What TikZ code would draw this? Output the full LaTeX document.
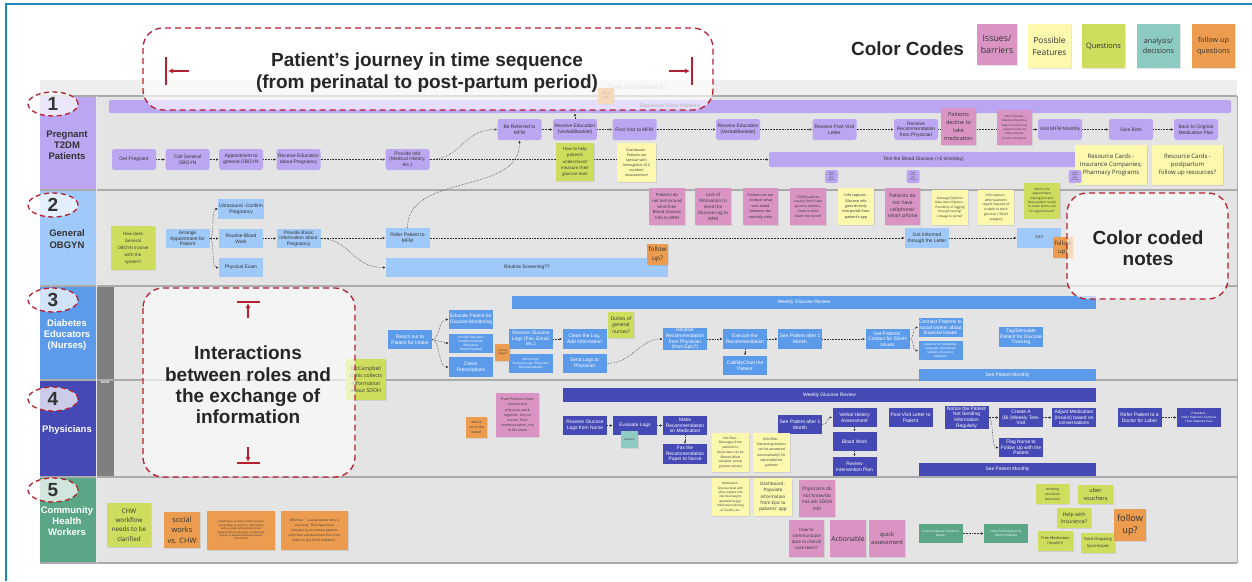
\documentclass[tikz,border=0pt]{standalone}
\usepackage{fontspec}
\setmainfont{Liberation Sans}
\newfontfamily\notefam{Open Sans}
\usepackage{tikz}
\usetikzlibrary{arrows.meta,shapes.geometric,shadows}

\definecolor{ptfill}{HTML}{BBA6F2}
\definecolor{obfill}{HTML}{9FC9F8}
\definecolor{edfill}{HTML}{5C9BEA}
\definecolor{phfill}{HTML}{4549B5}
\definecolor{cwfill}{HTML}{5AA686}
\definecolor{mfmgray}{HTML}{7F7F7F}
\definecolor{boardbg}{HTML}{E4E4E4}
\definecolor{bandbg}{HTML}{EEEEEE}
\definecolor{lanesep}{HTML}{ABABAB}
\definecolor{issuecol}{HTML}{D994C4}
\definecolor{featcol}{HTML}{FCF8AE}
\definecolor{questcol}{HTML}{CEDD5E}
\definecolor{decicol}{HTML}{8CCAC2}
\definecolor{fupcol}{HTML}{EC9C4E}
\definecolor{callred}{HTML}{B3202F}
\definecolor{framebl}{HTML}{1E86C7}
\definecolor{txtdark}{HTML}{333333}

\tikzset{
  mf/.style 2 args={font=\fontsize{#1}{#2}\selectfont},
  nf/.style 2 args={font=\notefam\fontsize{#1}{#2}\selectfont},
  sz/.style 2 args={minimum width=#1pt, minimum height=#2pt},
  pt/.style={fill=ptfill, rounded corners=2.5pt, minimum width=44pt, minimum height=21pt, inner sep=0.6pt, align=center, text=txtdark, mf={4.9}{5.7}},
  ob/.style={fill=obfill, minimum width=44pt, minimum height=19.5pt, inner sep=0.6pt, align=center, text=txtdark, mf={4.9}{5.7}},
  ed/.style={ob, fill=edfill, text=white},
  ph/.style={ob, fill=phfill, text=white},
  cw/.style={ob, fill=cwfill, text=white},
  note/.style={inner sep=0.5pt, align=center, text=txtdark, drop shadow={shadow xshift=0.5pt, shadow yshift=-0.6pt, opacity=0.2}},
  issue/.style={note, fill=issuecol},
  feature/.style={note, fill=featcol},
  quest/.style={note, fill=questcol},
  decide/.style={note, fill=decicol},
  fup/.style={note, fill=fupcol},
  flow/.style={densely dotted, line width=0.55pt, draw=txtdark, -{Latex[length=2.8pt,width=2.4pt]}},
  callout/.style={draw=callred, line width=1.3pt, dash pattern=on 6pt off 4pt, rounded corners=20pt, fill=white, fill opacity=0.62},
  callarrow/.style={draw=callred, line width=1.3pt, -{Latex[length=5pt,width=5pt]}},
  numcirc/.style={ellipse, draw=callred, line width=1.3pt, dash pattern=on 5pt off 3.5pt, fill=white, fill opacity=0.72, text opacity=1, minimum width=50pt, minimum height=24pt, inner sep=0pt, text=txtdark, font=\bfseries\fontsize{19}{19}\selectfont},
  lanelbl/.style={align=center, font=\bfseries\fontsize{9.5}{11.2}\selectfont},
  bigtxt/.style={align=center, text=black!85, font=\bfseries\fontsize{19}{21.3}\selectfont},
}

\begin{document}
\begin{tikzpicture}[x=1pt,y=-1pt]
\useasboundingbox (0,0) rectangle (1252,581);
%Shape: Frame
\fill[white] (0,0) rectangle (1252,581);
\draw[framebl, line width=2pt] (6,581) -- (6,4) -- (1252,4);

%Shape: Board and lanes
\fill[boardbg] (40,80) rectangle (1237,563);
\fill[bandbg] (40,80) rectangle (1237,96);
\node[mf={6.5}{7}, text=black!30] (timeline) at (637,88) {Time Line (month X)};
\fill[ptfill] (40,96) rectangle (96,190);
\fill[obfill] (40,190) rectangle (96,286);
\fill[edfill] (40,286) rectangle (96,380);
\fill[phfill] (40,380) rectangle (96,477);
\fill[cwfill] (40,477) rectangle (96,563);
\fill[mfmgray] (96,286) rectangle (114,477);
\node[text=white, font=\bfseries\fontsize{3.6}{4}\selectfont] (mfmlbl) at (105,382) {MFM};
\foreach \ly in {96,190,286,380,477,563}
  \draw[lanesep, line width=1.2pt] (40,\ly) -- (1237,\ly);
\draw[lanesep, line width=1pt] (1237,96) -- (1237,563);
\draw[white!80!gray, line width=0.6pt] (96,96) -- (96,563);

% Text Node
\node[lanelbl, text=txtdark] (lab1) at (67,145) {Pregnant\\T2DM\\Patients};
\node[lanelbl, text=txtdark] (lab2) at (67,239) {General\\OBGYN};
\node[lanelbl, text=white] (lab3) at (67,335) {Diabetes\\Educators\\(Nurses)};
\node[lanelbl, text=white] (lab4) at (67,430) {Physicians};
\node[lanelbl, text=white] (lab5) at (67,521) {Community\\Health\\Workers};

%Lane 1: pregnant patients
\node[pt, sz={1122}{13}, rounded corners=2pt] (sdoh) at (670,106.5) {Experience SDoH Problems};
\node[pt, sz={309}{15}, rounded corners=2pt] (testbg) at (923.5,159.5) {Test the Blood Glucose (>5 time/day)};
\node[pt] (getpreg) at (134,159.5) {Get Pregnant};
\node[pt] (callob) at (187.5,159.5) {Call General\\OBGYN};
\node[pt] (apptob) at (241,159.5) {Appointment to\\general OBGYN};
\node[pt] (recedu1) at (298.5,159.5) {Receive Education\\about Pregnancy};
\node[pt] (provinfo) at (407.5,159.5) {Provide Info\\(Medical History,\\etc.)};
\node[pt] (referred) at (519.5,129.5) {Be Referred to\\MFM};
\node[pt] (recedu2) at (575,129.5) {Receive Education\\(Verbal/Booklet)};
\node[pt] (firstvisit) at (634.5,129.5) {First Visit to MFM};
\node[pt] (recedu3) at (738,129.5) {Receive Education\\(Verbal/Booklet)};
\node[pt] (postletter) at (834.5,129.5) {Receive Post-Visit\\Letter};
\node[pt] (recrec) at (916,129.5) {Receive\\Recommendation\\from Physician};
\node[pt] (visitmfm) at (1060,129.5) {Visit MFM Monthly};
\node[pt] (birth) at (1131,129.5) {Give Birth};
\node[pt] (backplan) at (1196,129.5) {Back to Original\\Medication Plan};

%Lane 2: general OBGYN
\node[ob, sz={282}{19}] (screening) at (527,267.5) {Routine Screening??};
\node[ob] (arrange) at (187.5,238.5) {Arrange\\Appointment for\\Patient};
\node[ob] (ultra) at (241,209) {Ultrasound -Confirm\\Pregnancy};
\node[ob] (bloodwork) at (241,238.5) {Routine Blood\\Work};
\node[ob] (physexam) at (241,267.5) {Physical Exam};
\node[ob] (basicinfo) at (298.5,238.5) {Provide Basic\\Information about\\Pregnancy};
\node[ob] (referpt) at (407.5,238) {Refer Patient to\\MFM};
\node[ob] (gotinf) at (927,238) {Got Informed\\through the Letter};
\node[ob] (qqq) at (1039,238) {???};

%Lane 3: diabetes educators
\node[ed, sz={584}{13}] (weekly1) at (804,302.5) {Weekly Glucose Review};
\node[ed, sz={177}{12}] (monthly1) at (1007.5,375) {See Patient Monthly};
\node[ed] (reachout) at (410,339.5) {Reach out to\\Patient for Intake};
\node[ed] (educate) at (471,319.5) {Educate Patient for\\Glucose Monitoring};
\node[ed, mf={3.1}{4}] (proveduc) at (471,343.5) {Provide Education\\Food/Exercise/etc.\\(Education\\Script/Checklist)};
\node[ed] (checkpres) at (471,367) {Check\\Prescriptions};
\node[ed] (recglog) at (531,339) {Receive Glucose\\Logs (Fax, Email,\\etc.)};
\node[ed, mf={3.1}{4}] (epicinfo) at (531,363.5) {Info on Epic:\\Scanned Logs, Physician's\\Recommendation};
\node[ed] (cleanlog) at (584.5,339) {Clean the Log,\\Add Information};
\node[ed] (sendlog) at (584.5,363.5) {Send Logs to\\Physician};
\node[ed] (recrecom) at (685,339) {Receive\\Recommendation\\from Physician\\(from Epic?)};
\node[ed] (execute) at (745,339) {Execute the\\Recommendation};
\node[ed] (callpt) at (745,365.5) {Call/MyChart the\\Patient};
\node[ed] (seept1) at (800,339) {See Patient after 1\\Month};
\node[ed] (getcontact) at (887.5,339) {Get Patients'\\Contact for SDoH\\Issues};
\node[ed] (connsw) at (940.5,327.5) {Connect Patients to\\social worker about\\financial issues};
\node[ed, mf={3.1}{4}] (coupons) at (940.5,350.5) {Coupons for medication,\\language and cultural\\barriers, insurance\\problems};
\node[ed] (tagpt) at (1021,337) {Tag/Stimulate\\Patient for Glucose\\Tracking};

%Lane 4: physicians
\node[ph, sz={533}{14}] (weekly2) at (829.5,395) {Weekly Glucose Review};
\node[ph, sz={177}{13}] (monthly2) at (1007.5,469.5) {See Patient Monthly};
\node[ph] (recnurse) at (585,425.5) {Receive Glucose\\Logs from Nurse};
\node[ph] (evallogs) at (635,425.5) {Evaluate Logs};
\node[ph] (makerec) at (685,425.5) {Make\\Recommendation\\on Medication};
\node[ph] (faxrec) at (685,454) {Fax the\\Recommendation\\Paper to Nurse};
\node[ph] (seept2) at (800,424.5) {See Patient after 1\\Month};
\node[ph] (verbal) at (854.5,417.5) {Verbal History\\Assessment};
\node[ph] (bloodw) at (854.5,441.5) {Blood Work};
\node[ph] (review) at (854.5,466.5) {Review\\Intervention Plan};
\node[ph] (postvisit) at (910.5,417.5) {Post-Visit Letter to\\Patient};
\node[ph] (notice) at (966.5,417.5) {Notice the Patient\\Not Sending\\Information\\Regularly};
\node[ph] (televisit) at (1021,417.5) {Create A\\(Bi-)Weekly Tele-\\Visit};
\node[ph] (adjust) at (1074,417.5) {Adjust Medication\\(Insulin) based on\\conversations};
\node[ph] (flagnurse) at (1021,447.5) {Flag Nurse to\\Follow Up with the\\Patient};
\node[ph] (referlabor) at (1139.5,417.5) {Refer Patient to a\\Doctor for Labor};
\node[ph, mf={3.1}{4}] (ifneeded) at (1199,417.5) {If Needed -\\Refer Patient to Continue\\Their Diabetes Care};

%Lane 5: community health workers
\node[cw, mf={2.9}{4}] (connref) at (940.5,533.5) {Connect Patients to Referral\\Partner};
\node[cw, mf={3.1}{4}] (helpfind) at (1006,533.5) {Help Find Solutions for\\SDoH Problems};

%Straight Lines: flows
\draw[flow] (getpreg) -- (callob);
\draw[flow] (callob) -- (apptob);
\draw[flow] (apptob) -- (recedu1);
\draw[flow] (recedu1) -- (provinfo);
\draw[flow] (provinfo.east) .. controls (462,159.5) and (462,129.5) .. (referred.west);
\draw[flow] (provinfo) -- (testbg);
\draw[flow] (referpt.north) .. controls (407,172) and (520,196) .. (referred.south);
\draw[flow] (referred) -- (recedu2);
\draw[flow] (recedu2) -- (firstvisit);
\draw[flow] (recedu2.north) -- (recedu2.north |- sdoh.south);
\draw[flow] (firstvisit) -- (recedu3);
\draw[flow] (recedu3) -- (postletter);
\draw[flow] (postletter) -- (recrec);
\draw[flow] (recrec) -- (visitmfm);
\draw[flow] (visitmfm) -- (birth);
\draw[flow] (birth) -- (backplan);

\draw[flow] (arrange) -- (bloodwork);
\draw[flow] (arrange.east) .. controls (215,238.5) and (211,209) .. (ultra.west);
\draw[flow] (arrange.east) .. controls (215,238.5) and (211,267.5) .. (physexam.west);
\draw[flow] (bloodwork) -- (basicinfo);
\draw[flow] (basicinfo.east |- referpt.west) -- (referpt.west);
\draw[flow] (basicinfo.east) .. controls (350,239) and (352,267.5) .. (screening.west);
\draw[flow] (referpt) -- (gotinf);
\draw[flow] (gotinf) -- (qqq);

\draw[flow] (reachout.east) .. controls (440,339.5) and (438,319.5) .. (educate.west);
\draw[flow] (reachout.east) -- (proveduc.west);
\draw[flow] (reachout.east) .. controls (440,339.5) and (438,367) .. (checkpres.west);
\draw[flow] (recglog) -- (cleanlog);
\draw[flow] (sendlog.east) .. controls (632,363.5) and (640,339) .. (recrecom.west);
\draw[flow] (recrecom) -- (execute);
\draw[flow] (execute) -- (seept1);
\draw[flow] (execute) -- (callpt);
\draw[flow] (seept1) -- (getcontact);
\draw[flow] (getcontact.east) .. controls (915,339) and (912,327.5) .. (connsw.west);
\draw[flow] (getcontact.east) .. controls (915,339) and (912,350.5) .. (coupons.west);

\draw[flow] (recnurse) -- (evallogs);
\draw[flow] (evallogs) -- (makerec);
\draw[flow] (makerec) -- (faxrec);
\draw[flow] (seept2.east) .. controls (828,424.5) and (827,417.5) .. (verbal.west);
\draw[flow] (verbal) -- (bloodw);
\draw[flow] (bloodw) -- (review);
\draw[flow] (notice) -- (televisit);
\draw[flow] (notice.east) .. controls (994,417.5) and (991,447.5) .. (flagnurse.west);
\draw[flow] (televisit) -- (adjust);
\draw[flow] (referlabor) -- (ifneeded);

\draw[flow] (connref) -- (helpfind);

%Shape: sticky notes
\node[fup, sz={16}{16}, nf={3}{4}] (fup1) at (606,96) {follow\\up?};
\node[quest, sz={38}{38}, nf={4.3}{6.3}] (howhelp) at (575,162) {How to help\\patients\\understand/\\measure their\\glucose level};
\node[feature, sz={39}{39}, nf={3.5}{5.1}] (dasha1c) at (636.5,162.5) {Dashboard -\\Patients are\\familiar with\\hemoglobin A1C\\number/\\measurement};
\node[issue, sz={35}{37}, nf={5.5}{7.7}] (decline) at (958.5,126.5) {Patients\\decline to\\take\\medication};
\node[issue, sz={35}{35}, nf={2.7}{4.4}] (thirdtri) at (1014.5,127.5) {Third Trimester:\\Diabetes oftentimes\\begins to worsen as\\a patient enter the\\third trimester\\(insulin resistance).};
\node[feature, sz={72}{40}, nf={6}{8.2}] (rescard1) at (1111,165) {Resource Cards -\\Insurance Companies;\\Pharmacy Programs};
\node[feature, sz={71}{40}, nf={6}{8.2}] (rescard2) at (1187.5,165) {Resource Cards -\\postpartum\\follow up resources?};
\node[pt, sz={13}{13}, mf={1.9}{2.4}, rounded corners=1.5pt, inner sep=0pt] (tag1) at (831.5,176.5) {Send\\Data to\\MFM\\Clinician};
\node[pt, sz={13}{13}, mf={1.9}{2.4}, rounded corners=1.5pt, inner sep=0pt] (tag2) at (913,176.5) {Send\\Data to\\MFM\\Clinician};
\node[pt, sz={13}{13}, mf={1.9}{2.4}, rounded corners=1.5pt, inner sep=0pt] (tag3) at (1075,176.5) {Send\\Data to\\MFM\\Clinician};

\node[quest, sz={44}{44}, nf={4.4}{7}] (howob) at (133,248) {How does\\General\\OBGYN involve\\with the\\system?};
\node[fup, sz={21}{21}, nf={6.4}{8.8}] (fup2) at (657.5,254.5) {follow\\up?};
\node[issue, sz={36}{37}, nf={4.2}{5.9}] (notest) at (667,206.5) {Patients do\\not test or/and\\send their\\Blood Glucose\\Info to MFM};
\node[issue, sz={36}{37}, nf={4.4}{6}] (lackmot) at (713,206.5) {Lack of\\Motivation to\\Send the\\Glucose Log to\\MFM};
\node[issue, sz={35}{37}, nf={3.7}{5.5}] (notcond) at (760.5,206.5) {Patients do not\\conduct what\\was asked\\between the\\monthly visits};
\node[issue, sz={36}{37}, nf={3.4}{4.8}] (nosensor) at (808,206.5) {T2DM patients\\usually don't have\\glucose sensors,\\need to write\\down the record};
\node[feature, sz={36}{37}, nf={3.7}{5.3}] (infocap1) at (856,206.5) {Info capture -\\Glucose info\\goes directly\\into portal from\\patient's app};
\node[issue, sz={35}{37}, nf={5}{6.7}] (nophone) at (902.5,206.5) {Patients do\\not have\\cellphone/\\smart phone};
\node[feature, sz={36}{35}, nf={3.1}{4.4}] (msgopt) at (950,207.5) {Message Options/\\Data Input Options -\\Possibility of logging\\through texting?\\Linkage to portal?};
\node[feature, sz={36}{35}, nf={3.3}{4.8}] (infocap2) at (996,207.5) {Info capture -\\when patients\\report reasons of\\unable to track\\glucose + SDoH\\category};
\node[quest, sz={36}{36}, nf={3.1}{4.4}] (apptproc) at (1042,200.5) {What's the\\appointment\\making process?\\Does patient needs\\to make phone call\\for appointment?};
\node[fup, sz={20}{21}, nf={6}{8}] (fup3) at (1063,247.5) {follow\\up?};

\node[fup, sz={15}{17}, nf={2.5}{3.6}] (scanned) at (502.5,352.5) {scanned\\images?};
\node[quest, sz={26}{26}, nf={5}{6.7}] (duties) at (621,325) {Duties of\\general\\nurses?};
\node[quest, sz={40}{41}, nf={5.2}{7.3}] (mccamp) at (366,379.5) {McCampbell\\Clinic collects\\information\\about SDOH};

\node[issue, sz={43}{44}, nf={3.5}{5.2}] (prevnote) at (517.5,415) {From Previous Note:\\Nurses and\\physician work\\together, rely on\\nurses. Poor\\communication, not\\in the know};
\node[fup, sz={21}{21}, nf={3.3}{5.2}] (whoknow) at (476.5,427.5) {who is\\not in the\\know?};
\node[decide, sz={17}{17}, nf={2.5}{3}] (decis) at (629.5,439.5) {decisions};
\node[feature, sz={37}{39}, nf={3.2}{4.7}] (filter1) at (730.5,452.5) {Info filter -\\Messages from\\patients to\\physicians can be\\filtered (Most\\valuable: actual\\glucose values)};
\node[feature, sz={37}{39}, nf={3.4}{5.2}] (filter2) at (771.5,452.5) {Info filter -\\General questions\\can be answered\\automatically? Or\\searchable for\\patients};

\node[quest, sz={44}{44}, nf={6.3}{9.3}] (chwflow) at (129,525) {CHW\\workflow\\needs to be\\clarified};
\node[fup, sz={36}{36}, nf={7.4}{10.3}] (socvchw) at (182,530) {social\\works\\vs. CHW};
\node[fup, sz={68}{39}, nf={2.5}{3.4}] (csumc) at (241,530.5) {CSUMC plans to utilize a SDoH screener\\and develop an electronic referral plan\\path a vendor who provides SDoH\\Digital Platforms alongside a community\\partner to allow bi-directional flow of\\information.};
\node[fup, sz={67}{39}, nf={3.1}{4.9}] (mfmsw) at (314.5,530.5) {MFM has ``a social worker who is\\very busy. The triage/nurse\\educator try to connect patients\\with them and document this in the\\notes for any SDoH problems.''};
\node[feature, sz={37}{38}, nf={3}{4.4}] (dashglu) at (730.5,497) {Dashboard -\\Glucose level with\\other patient info\\like fetal weight,\\gestational age,\\medication (dosing\\of insulin), etc.};
\node[feature, sz={38}{38}, nf={4.5}{6.2}] (dashpop) at (773,497) {Dashboard -\\Populate\\information\\from Epic to\\patients' app};
\node[issue, sz={36}{37}, nf={4.7}{6.5}] (physnot) at (817,498.5) {Physicians do\\not know/do\\not ask SDOH\\info};
\node[issue, sz={35}{37}, nf={4.4}{6}] (howcomm) at (806.5,538.5) {how to\\communicate\\data to clinical\\care team?};
\node[issue, sz={36}{37}, nf={6.8}{8}] (action) at (848,538.5) {Actionable};
\node[issue, sz={36}{37}, nf={5.8}{7.7}] (quick) at (887,538.5) {quick\\assessment};
\node[quest, sz={33}{20}, nf={3.4}{5.2}] (smoking) at (1052.5,494) {smoking\\cessation\\resources};
\node[quest, sz={35}{19}, nf={5.6}{7.6}] (uber) at (1095.5,494.5) {uber\\vouchers};
\node[quest, sz={34}{20}, nf={5.2}{7.2}] (helpins) at (1074,518) {Help with\\Insurance?};
\node[quest, sz={35}{20}, nf={3.8}{5.6}] (freemed) at (1055.5,541) {Free Medication\\(insulin)?};
\node[quest, sz={34}{20}, nf={4.1}{6.2}] (foodshop) at (1098,543) {food shopping\\tips/recipes};
\node[fup, sz={32}{32}, nf={9.2}{12.3}] (fup4) at (1130,525) {follow\\up?};

%Shape: legend
\node[bigtxt] (colorcodes) at (907.5,49) {Color Codes};
\node[issue, sz={40}{41}, nf={8.8}{12.5}] (legissue) at (997,44.5) {Issues/\\barriers};
\node[feature, sz={43}{44}, nf={8.4}{12}] (legfeat) at (1049.5,46) {Possible\\Features};
\node[quest, sz={43}{44}, nf={7.4}{10}] (legquest) at (1103.5,46) {Questions};
\node[decide, sz={43}{44}, nf={7.2}{10.5}] (legdecide) at (1158.5,46) {analysis/\\decisions};
\node[fup, sz={43}{44}, nf={7.2}{10.5}] (legfup) at (1213.5,46) {follow up\\questions};

%Shape: callouts
\path[callout] (143,28) rectangle (713,110);
\path[callout] (1067,193) rectangle (1228,299);
\path[callout] (143,288) rectangle (355,477);
\node[bigtxt] (title) at (427,72.5) {Patient's journey in time sequence\\(from perinatal to post-partum period)};
\node[bigtxt] (cctext) at (1148,248) {Color coded\\notes};
\node[bigtxt] (intertext) at (248,385) {Interactions\\between roles and\\the exchange of\\information};
\coordinate (tl) at (166,71);
\coordinate (tr) at (692,71);
\coordinate (it) at (248,302);
\coordinate (ib) at (248,463);
\draw[callred, line width=1.3pt] ([yshift=-14pt]tl) -- ([yshift=14pt]tl);
\draw[callarrow] ([xshift=23pt]tl) -- ([xshift=2pt]tl);
\draw[callred, line width=1.3pt] ([yshift=-14pt]tr) -- ([yshift=14pt]tr);
\draw[callarrow] ([xshift=-23pt]tr) -- ([xshift=-2pt]tr);
\draw[callred, line width=1.3pt] ([xshift=-11.5pt]it) -- ([xshift=11.5pt]it);
\draw[callarrow] ([yshift=-16pt]it) -- ([yshift=-1pt]it);
\draw[callred, line width=1.3pt] ([xshift=-11.5pt]ib) -- ([xshift=11.5pt]ib);
\draw[callarrow] ([yshift=16pt]ib) -- ([yshift=1pt]ib);

%Shape: lane numbers
\node[numcirc] (num1) at (53,104) {1};
\node[numcirc] (num2) at (53,205) {2};
\node[numcirc] (num3) at (53,300) {3};
\node[numcirc] (num4) at (53,399) {4};
\node[numcirc] (num5) at (53,490) {5};

\end{tikzpicture}
\end{document}
